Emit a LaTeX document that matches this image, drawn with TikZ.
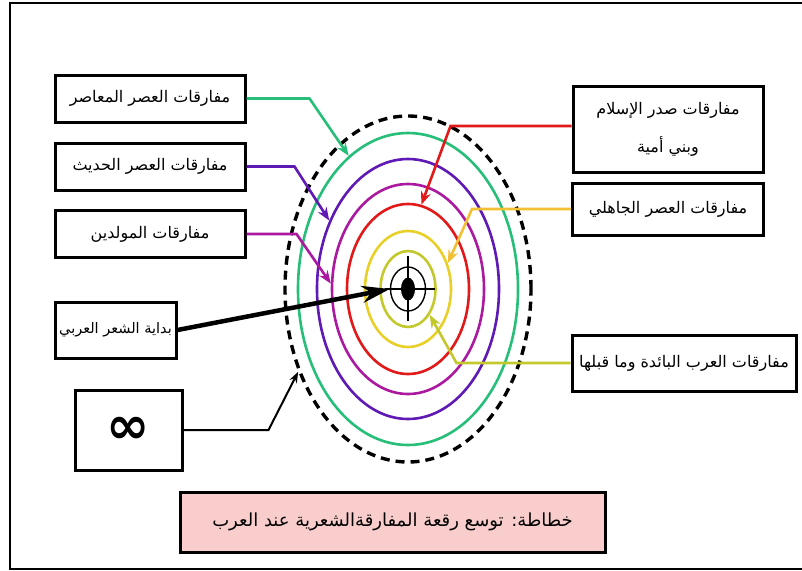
\documentclass[tikz,border=0pt]{standalone}
\usepackage{amsmath}
\usepackage{fontspec}
\usepackage{tikz}
\usetikzlibrary{shapes.geometric, arrows.meta}
\newfontfamily\arabicfont[Script=Arabic]{DejaVu Sans}
\newfontfamily\symbfont{DejaVu Sans}
\TeXXeTstate=1
\newcommand\artxt[1]{{\arabicfont\beginR #1\endR}}
\definecolor{ringgreen}{RGB}{38,190,120}
\definecolor{ringviolet}{RGB}{95,25,180}
\definecolor{ringmagenta}{RGB}{170,25,160}
\definecolor{ringred}{RGB}{225,25,25}
\definecolor{ringyellow}{RGB}{232,208,40}
\definecolor{ringgold}{RGB}{242,192,50}
\definecolor{ringolive}{RGB}{195,200,45}
\definecolor{capfill}{RGB}{250,205,205}

\begin{document}
\begin{tikzpicture}[x=1pt,y=-1pt,
  lbl/.style={draw, line width=3pt, fill=white, inner sep=3pt, font=\fontsize{16}{20}\selectfont},
  ring/.style={ellipse, draw, line width=2.6pt, inner sep=0pt},
  pointer/.style={line width=2.6pt, -{Stealth[length=13pt,width=10pt]}}]
\useasboundingbox (0,0) rectangle (802,570);
\draw[line width=2pt] (10,2.5) rectangle (806,568.5);
\coordinate (c) at (408,289);

% rings
\node[ring, line width=3.4pt, dash pattern=on 9pt off 6pt, minimum width=246pt, minimum height=346pt] (outer) at (c) {};
\node[ring, ringgreen, minimum width=220pt, minimum height=312pt] (green) at (c) {};
\node[ring, ringviolet, minimum width=182pt, minimum height=260pt] (violet) at (c) {};
\node[ring, ringmagenta, minimum width=152pt, minimum height=210pt] (magenta) at (c) {};
\node[ring, ringred, minimum width=122pt, minimum height=170pt] (red) at (c) {};
\node[ring, ringyellow, minimum width=86pt, minimum height=116pt] (yellow) at (c) {};
\node[ring, ringolive, minimum width=55pt, minimum height=76pt] (olive) at (c) {};
\node[ring, line width=1.4pt, minimum width=35pt, minimum height=44pt] (target) at (c) {};
\node[ellipse, fill, inner sep=0pt, minimum width=14pt, minimum height=23pt] (dot) at (c) {};
\draw[line width=1.4pt] ([xshift=-23pt]c) -- ([xshift=27pt]c);
\draw[line width=1.4pt] ([yshift=-32pt]c) -- ([yshift=33pt]c);

% labels
\node[lbl, minimum width=190pt, minimum height=47pt] (mod) at (150,98.5) {\artxt{مفارقات العصر المعاصر}};
\node[lbl, minimum width=190pt, minimum height=47pt] (hadith) at (150,166.5) {\artxt{مفارقات العصر الحديث}};
\node[lbl, minimum width=190pt, minimum height=47pt] (muwal) at (150,234) {\artxt{مفارقات المولدين}};
\node[lbl, minimum width=121pt, minimum height=56pt, font=\fontsize{14.5}{20}\selectfont] (start) at (115.5,330) {\artxt{بداية الشعر العربي}};
\node[lbl, minimum width=107pt, minimum height=80pt, font=\symbfont\bfseries\fontsize{52}{52}\selectfont] (infin) at (128.5,430) {∞};
\node[lbl, minimum width=190pt, minimum height=86pt, align=center, font=\fontsize{16}{38}\selectfont] (islam) at (668,129) {\artxt{مفارقات صدر الإسلام}\\\artxt{وبني أمية}};
\node[lbl, minimum width=191pt, minimum height=52pt] (jahili) at (668,209) {\artxt{مفارقات العصر الجاهلي}};
\node[lbl, minimum width=224pt, minimum height=56pt] (baida) at (684,363) {\artxt{مفارقات العرب البائدة وما قبلها}};
\node[lbl, fill=capfill, minimum width=425pt, minimum height=60pt, font=\fontsize{18}{22}\selectfont] (cap) at (392.5,522) {\artxt{خطاطة: توسع رقعة المفارقةالشعرية عند العرب}};

% pointers
\draw[pointer, ringgreen] (mod.east) -- ++(63,0) -- (green.114);
\draw[pointer, ringviolet] (hadith.east) -- ++(48,0) -- (violet.139);
\draw[pointer, ringmagenta] (muwal.east) -- ++(50,0) -- (magenta.176);
\draw[line width=4.5pt, -{Stealth[length=28pt,width=17pt]}] (start.east) -- (target.west);
\draw[line width=2pt, -{Stealth[length=11pt,width=8pt]}] (infin.east) -- ++(85,0) -- (outer.217);
\draw[pointer, ringred] ([yshift=3pt]islam.west) -- ++(-121,0) -- (red.81);
\draw[pointer, ringgold] (jahili.west) -- ++(-99,0) -- (yellow.33);
\draw[pointer, ringolive] (baida.west) -- ++(-114,0) -- (olive.-50);
\end{tikzpicture}
\end{document}
